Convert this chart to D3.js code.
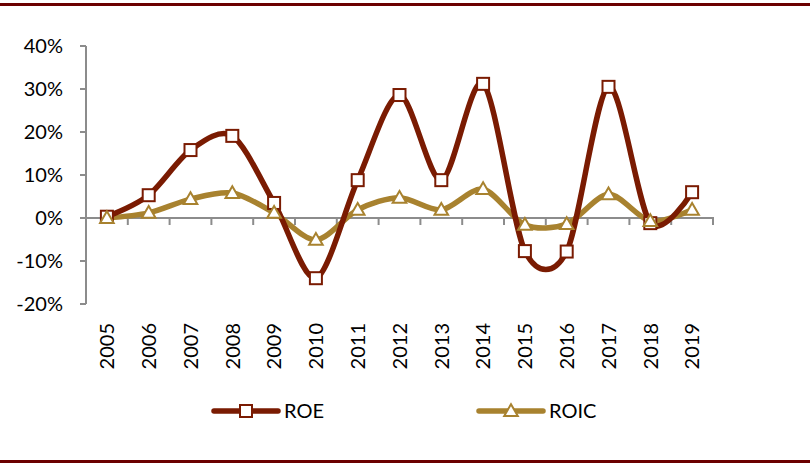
<!DOCTYPE html>
<html><head><meta charset="utf-8">
<script src="https://cdn.jsdelivr.net/npm/d3@7"></script>
<style>body{margin:0;background:#fff}svg{display:block}</style>
</head><body>
<svg id="c" width="810" height="467"></svg>
<script>
const years = ["2005","2006","2007","2008","2009","2010","2011","2012","2013","2014","2015","2016","2017","2018","2019"];
const roe  = [0.3, 5.3, 15.8, 19.1, 3.5, -14.0, 8.8, 28.6, 8.8, 31.2, -7.7, -7.8, 30.5, -1.2, 6.0];
const roic = [0.0, 1.2, 4.4, 5.8, 1.2, -5.1, 1.9, 4.7, 1.9, 6.7, -1.6, -1.4, 5.5, -0.7, 1.9];
const yTicks = [-20, -10, 0, 10, 20, 30, 40];
const seriesNames = ["ROE", "ROIC"];

const svg = d3.select("#c");
const font = "Lato, 'Open Sans', sans-serif";
const cRoe = "#7A1B02", cRoic = "#A8822F", axisC = "#8C8C8C", ruleC = "#6B0000";

svg.append("line").attr("x1",0).attr("x2",810).attr("y1",4.5).attr("y2",4.5).attr("stroke",ruleC).attr("stroke-width",3);
svg.append("line").attr("x1",0).attr("x2",810).attr("y1",461.5).attr("y2",461.5).attr("stroke",ruleC).attr("stroke-width",3);

const x = d3.scaleBand().domain(years).range([86, 713]);
const y = d3.scaleLinear().domain([-20, 40]).range([304, 46]);

// y axis
const ya = svg.append("g");
ya.append("line").attr("x1",86).attr("x2",86).attr("y1",y(40)).attr("y2",y(-20)).attr("stroke",axisC).attr("stroke-width",2);
ya.selectAll(".t").data(yTicks).join("line").attr("x1",80).attr("x2",86).attr("y1",d=>y(d)).attr("y2",d=>y(d)).attr("stroke",axisC).attr("stroke-width",2);
ya.selectAll("text").data(yTicks).join("text").attr("x",63).attr("y",d=>y(d)).attr("dy","0.36em")
  .attr("text-anchor","end").attr("font-family",font).attr("font-size",20).attr("fill","#000").text(d=>d+"%");

// x axis at 0
const xa = svg.append("g");
xa.append("line").attr("x1",86).attr("x2",714).attr("y1",y(0)).attr("y2",y(0)).attr("stroke",axisC).attr("stroke-width",2);
const bounds = years.map(d=>x(d)).concat([x.range()[1]]);
xa.selectAll(".t").data(bounds).join("line").attr("x1",d=>d).attr("x2",d=>d).attr("y1",y(0)).attr("y2",y(0)+7).attr("stroke",axisC).attr("stroke-width",2);
xa.selectAll("text").data(years).join("text")
  .attr("transform",d=>`translate(${x(d)+x.bandwidth()/2},323) rotate(-90)`)
  .attr("dy","0.36em").attr("text-anchor","end").attr("font-family",font).attr("font-size",20).attr("fill","#000").text(d=>d);

const cx = d=>x(d)+x.bandwidth()/2;
const line = d3.line().x((d,i)=>cx(years[i])).y(d=>y(d)).curve(d3.curveCardinal.tension(0.12));

svg.append("path").attr("d",line(roic)).attr("fill","none").attr("stroke",cRoic).attr("stroke-width",5.5).attr("stroke-linecap","round");
svg.append("path").attr("d",line(roe)).attr("fill","none").attr("stroke",cRoe).attr("stroke-width",5.5).attr("stroke-linecap","round");

const tri = d3.symbol().type(d3.symbolTriangle).size(80);
function sq(g, px, py){ g.append("rect").attr("x",px-6).attr("y",py-6).attr("width",12).attr("height",12).attr("fill","#fff").attr("stroke",cRoe).attr("stroke-width",2); }
function tr(g, px, py){ g.append("path").attr("d",tri()).attr("transform",`translate(${px},${py+1})`).attr("fill","#fff").attr("stroke",cRoic).attr("stroke-width",2); }

const mRoe = svg.append("g");
roe.forEach((v,i)=>sq(mRoe, cx(years[i]), y(v)));
const mRoic = svg.append("g");
roic.forEach((v,i)=>tr(mRoic, cx(years[i]), y(v)));

// legend
const leg = svg.append("g");
const legItems = [{n:seriesNames[0], x:214, c:cRoe, m:sq},{n:seriesNames[1], x:479, c:cRoic, m:tr}];
legItems.forEach(it=>{
  leg.append("line").attr("x1",it.x).attr("x2",it.x+64).attr("y1",411).attr("y2",411).attr("stroke",it.c).attr("stroke-width",5.5).attr("stroke-linecap","round");
  it.m(leg, it.x+32, 411);
  leg.append("text").attr("x",it.x+70).attr("y",411).attr("dy","0.36em").attr("font-family",font).attr("font-size",20).attr("fill","#000").text(it.n);
});
</script>
</body></html>
